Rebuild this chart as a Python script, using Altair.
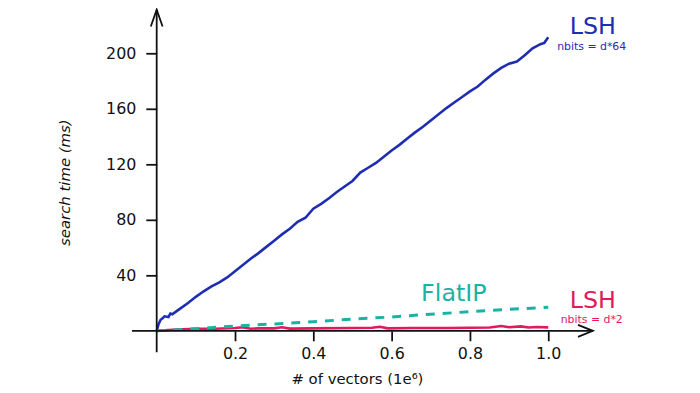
import altair as alt
import pandas as pd

# ---------------- data ----------------
lsh64_x = [0.000, 0.005, 0.010, 0.015, 0.020, 0.030, 0.035, 0.040, 0.050, 0.060,
           0.080, 0.100, 0.120, 0.140, 0.160, 0.180, 0.200, 0.220, 0.240, 0.260,
           0.280, 0.300, 0.320, 0.340, 0.360, 0.380, 0.400, 0.420, 0.440, 0.460,
           0.480, 0.500, 0.520, 0.540, 0.560, 0.580, 0.600, 0.620, 0.640, 0.660,
           0.680, 0.700, 0.720, 0.740, 0.760, 0.780, 0.800, 0.820, 0.840, 0.860,
           0.880, 0.900, 0.920, 0.940, 0.960, 0.980, 0.990, 1.000]
lsh64_y = [0.0, 5.0, 8.0, 9.0, 10.5, 10.0, 12.5, 12.0, 14.0, 16.0,
           20.0, 24.5, 28.5, 32.0, 35.0, 38.5, 43.0, 47.5, 52.0, 56.0,
           60.5, 65.0, 69.5, 73.5, 78.5, 81.5, 88.0, 91.5, 95.5, 100.0,
           104.0, 108.0, 114.0, 117.5, 121.0, 125.5, 130.0, 134.0, 138.5, 143.0,
           147.0, 151.5, 156.0, 160.5, 164.5, 168.5, 172.5, 176.0, 181.0, 185.5,
           189.5, 192.5, 194.0, 198.5, 203.5, 206.5, 207.5, 211.5]

flat_x = [0.0, 0.1, 0.2, 0.3, 0.4, 0.5, 0.6, 0.7, 0.8, 0.9, 1.0]
flat_y = [0.0, 1.5, 3.5, 5.0, 6.5, 8.5, 10.0, 12.0, 13.8, 15.5, 17.0]

lsh2_x = [0.00, 0.05, 0.10, 0.15, 0.20, 0.22, 0.24, 0.26, 0.30, 0.32, 0.34,
          0.40, 0.50, 0.55, 0.57, 0.59, 0.65, 0.70, 0.75, 0.80, 0.85, 0.88,
          0.90, 0.93, 0.95, 0.97, 1.00]
lsh2_y = [0.0, 1.0, 1.5, 1.5, 2.0, 2.6, 1.5, 1.8, 1.8, 2.6, 1.6,
          1.8, 2.0, 2.2, 3.0, 1.8, 2.0, 2.0, 2.0, 2.2, 2.4, 3.5,
          2.6, 3.2, 2.4, 2.8, 2.5]

x_ticks = [0.2, 0.4, 0.6, 0.8, 1.0]
y_ticks = [40, 80, 120, 160, 200]

labels_big = ["LSH", "FlatIP", "LSH"]
labels_big_x = [1.114, 0.759, 1.114]
labels_big_y = [214.0, 21.4, 16.2]
labels_big_c = ["#1f2db3", "#19b2a5", "#e2195e"]

labels_small = ["nbits = d*64", "nbits = d*2"]
labels_small_x = [1.111, 1.111]
labels_small_y = [202.6, 5.8]
labels_small_c = ["#1f2db3", "#e2195e"]

# ---------------- layout ----------------
FONT = "DejaVu Sans"
INK = "#111111"
BLUE, TEAL, PINK = "#1f2db3", "#19b2a5", "#e2195e"
X_MIN_LINE, X_MAX = -0.063, 1.114
Y_MIN_LINE, Y_MAX = -15.5, 231.4
W, H = 440, 324

xs = alt.Scale(domain=[0, X_MAX], nice=False, zero=False)
ys = alt.Scale(domain=[0, Y_MAX], nice=False, zero=False)

axis_x = alt.Axis(values=x_ticks, format=".1f", domain=False, grid=False,
                  tickSize=10, tickWidth=1.8, tickColor=INK,
                  labelPadding=5, labelFont=FONT, labelFontSize=16, labelColor=INK,
                  labelFlush=False,
                  title="# of vectors (1e⁶)", titleFont=FONT, titleFontSize=15,
                  titleFontWeight="normal", titleColor=INK,
                  titleX=202, titleY=48, titleAlign="center", titleBaseline="middle")
axis_y = alt.Axis(values=y_ticks, domain=False, grid=False,
                  tickSize=11, tickWidth=1.8, tickColor=INK,
                  labelPadding=10, labelFont=FONT, labelFontSize=16, labelColor=INK,
                  title="search time (ms)", titleFont=FONT, titleFontSize=15,
                  titleFontWeight="normal", titleFontStyle="italic", titleColor=INK,
                  titleAngle=270, titleX=-93, titleY=174,
                  titleAlign="center", titleBaseline="middle")


def X(field="x"):
    return alt.X(f"{field}:Q", scale=xs, axis=axis_x)


def Y(field="y"):
    return alt.Y(f"{field}:Q", scale=ys, axis=axis_y)


df64 = pd.DataFrame({"x": lsh64_x, "y": lsh64_y})
dfflat = pd.DataFrame({"x": flat_x, "y": flat_y})
df2 = pd.DataFrame({"x": lsh2_x, "y": lsh2_y})

blue = alt.Chart(df64).mark_line(color=BLUE, strokeWidth=2.6).encode(x=X(), y=Y())
pink = alt.Chart(df2).mark_line(color=PINK, strokeWidth=2.6).encode(x=X(), y=Y())
teal = alt.Chart(dfflat).mark_line(color=TEAL, strokeWidth=3, strokeDash=[9, 8]).encode(x=X(), y=Y())

# axis lines (crossing at the origin) and arrow heads
xline = alt.Chart(pd.DataFrame({"x": [X_MIN_LINE], "x2": [X_MAX], "y": [0]})).mark_rule(
    color=INK, strokeWidth=1.8).encode(x=X(), x2="x2:Q", y=Y())
yline = alt.Chart(pd.DataFrame({"x": [0], "y": [Y_MIN_LINE], "y2": [Y_MAX]})).mark_rule(
    color=INK, strokeWidth=1.8).encode(x=X(), y=Y(), y2="y2:Q")

yarrow = alt.Chart(pd.DataFrame({"x": [0], "y": [Y_MAX]})).mark_point(
    shape="M -0.35 1 L 0 0 L 0.35 1", size=1156, filled=False,
    stroke=INK, strokeWidth=1.8, opacity=1).encode(x=X(), y=Y())
xarrow = alt.Chart(pd.DataFrame({"x": [X_MAX], "y": [0]})).mark_point(
    shape="M -1 -0.4 L 0 0 L -1 0.4", size=900, filled=False,
    stroke=INK, strokeWidth=1.8, opacity=1).encode(x=X(), y=Y())

big = alt.Chart(pd.DataFrame({"x": labels_big_x, "y": labels_big_y,
                              "t": labels_big, "c": labels_big_c})).mark_text(
    font=FONT, fontSize=24, align="center", baseline="alphabetic").encode(
    x=X(), y=Y(), text="t:N", color=alt.Color("c:N", scale=None))
small = alt.Chart(pd.DataFrame({"x": labels_small_x, "y": labels_small_y,
                                "t": labels_small, "c": labels_small_c})).mark_text(
    font=FONT, fontSize=11, align="center", baseline="alphabetic").encode(
    x=X(), y=Y(), text="t:N", color=alt.Color("c:N", scale=None))

chart = alt.layer(blue, pink, teal, xline, yline, yarrow, xarrow, big, small).properties(
    width=W, height=H,
    autosize=alt.AutoSizeParams(type="none"),
    padding={"left": 150, "top": 0, "right": 100, "bottom": 60},
).configure(background="white").configure_view(stroke=None)

chart.save("out.html", embed_options={"renderer": "svg", "actions": False})
